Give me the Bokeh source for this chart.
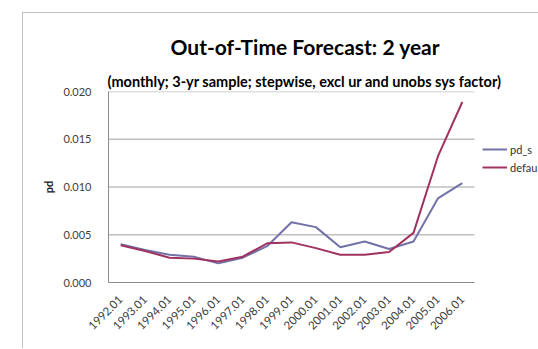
import math
from bokeh.plotting import figure
from bokeh.models import (Range1d, FixedTicker, NumeralTickFormatter,
                          Legend, LegendItem, Title, InlineStyleSheet)
from bokeh.embed import file_html
from bokeh.resources import INLINE

# Forecast periods (January of each year)
periods = ["1992.01", "1993.01", "1994.01", "1995.01", "1996.01", "1997.01", "1998.01",
           "1999.01", "2000.01", "2001.01", "2002.01", "2003.01", "2004.01", "2005.01", "2006.01"]

# Simulated PD and observed default rate
pd_sim = [0.0040, 0.0034, 0.0029, 0.0027, 0.0020, 0.0026, 0.0038,
          0.0063, 0.0058, 0.0037, 0.0043, 0.0035, 0.0043, 0.0088, 0.0104]
default_rate = [0.0039, 0.0033, 0.0026, 0.0025, 0.0022, 0.0027, 0.0041,
                0.0042, 0.0036, 0.0029, 0.0029, 0.0032, 0.0052, 0.0132, 0.0189]

series_labels = ["pd_s", "defau"]
y_ticks = [0.0, 0.005, 0.010, 0.015, 0.020]

FONT = "Lato"
TEXT = "#404040"
AXIS = "#8C8C8C"
GRID = "#BFBFBF"

# Layout: the plotting frame runs to the right edge so the legend can sit beside the
# category area; the category area itself covers PLOT_W pixels of the FRAME_W frame.
FIG_W, FIG_H = 516, 336
BORDER_L, BORDER_T, BORDER_B = 85, 78, 67
PLOT_W = 366
FRAME_W = FIG_W - BORDER_L
n = len(periods)
idx = list(range(n))
x_lo = -0.5
x_hi = x_lo + n * FRAME_W / PLOT_W

chart_border = InlineStyleSheet(css=""":host {
  border-left: 1px solid #C0C0C0 !important;
  border-top: 1px solid #C0C0C0 !important;
}""")

p = figure(x_range=Range1d(x_lo, x_hi), y_range=Range1d(0, 0.02),
           width=FIG_W, height=FIG_H, output_backend="svg", toolbar_location=None,
           title=None,
           min_border_left=BORDER_L, min_border_right=0, min_border_top=BORDER_T,
           min_border_bottom=BORDER_B,
           styles={"margin-left": "22px", "margin-top": "12px"},
           stylesheets=[chart_border])
p.outline_line_color = None
p.background_fill_color = "white"
p.border_fill_color = "white"

# Horizontal gridlines over the category area only
p.xgrid.grid_line_color = None
p.ygrid.grid_line_color = None
p.segment(x0=[x_lo] * len(y_ticks[1:]), x1=[n - 0.5] * len(y_ticks[1:]),
          y0=y_ticks[1:], y1=y_ticks[1:], line_color=GRID, line_width=1.5)

r1 = p.line(idx, pd_sim, line_color="#7272A8", line_width=2)
r2 = p.line(idx, default_rate, line_color="#A0325F", line_width=2)

# Axes
p.xaxis.ticker = FixedTicker(ticks=idx)
p.xaxis.major_label_overrides = {i: lab for i, lab in enumerate(periods)}
p.xaxis.bounds = (x_lo, n - 0.5)
p.yaxis.ticker = FixedTicker(ticks=y_ticks)
p.yaxis.formatter = NumeralTickFormatter(format="0.000")
for ax in (p.xaxis[0], p.yaxis[0]):
    ax.axis_line_color = AXIS
    ax.major_tick_line_color = None
    ax.minor_tick_line_color = None
    ax.major_label_text_font = FONT
    ax.major_label_text_color = TEXT
    ax.major_label_text_font_size = "11px"
p.yaxis.major_label_standoff = 11
p.yaxis.axis_label = "pd"
p.yaxis.axis_label_text_font = FONT
p.yaxis.axis_label_text_font_style = "bold"
p.yaxis.axis_label_text_font_size = "11px"
p.yaxis.axis_label_text_color = "#202020"
p.yaxis.axis_label_standoff = 5
p.xaxis.major_label_orientation = math.pi / 4
p.xaxis.major_label_standoff = 9
p.xaxis.major_label_text_font_size = "11.5px"

# Titles (last added sits on top)
p.add_layout(Title(text="(monthly; 3-yr sample; stepwise, excl ur and unobs sys factor)",
                   align="left", offset=-1, text_font=FONT, text_font_style="bold",
                   text_font_size="14.5px", text_color="#000000", standoff=4), "above")
p.add_layout(Title(text="Out-of-Time Forecast: 2 year",
                   align="left", offset=62, text_font=FONT, text_font_style="bold",
                   text_font_size="21px", text_color="#000000", standoff=20), "above")

legend = Legend(items=[LegendItem(label=series_labels[0], renderers=[r1]),
                       LegendItem(label=series_labels[1], renderers=[r2])],
                location=(PLOT_W + 8, 106), orientation="vertical",
                border_line_color=None, background_fill_alpha=0,
                padding=0, margin=0, spacing=0,
                glyph_width=25, glyph_height=18, label_height=18, label_standoff=3,
                label_text_font=FONT, label_text_font_size="11px", label_text_color="#303030")
p.add_layout(legend, "center")

open("out.html", "w").write(file_html(p, INLINE))
